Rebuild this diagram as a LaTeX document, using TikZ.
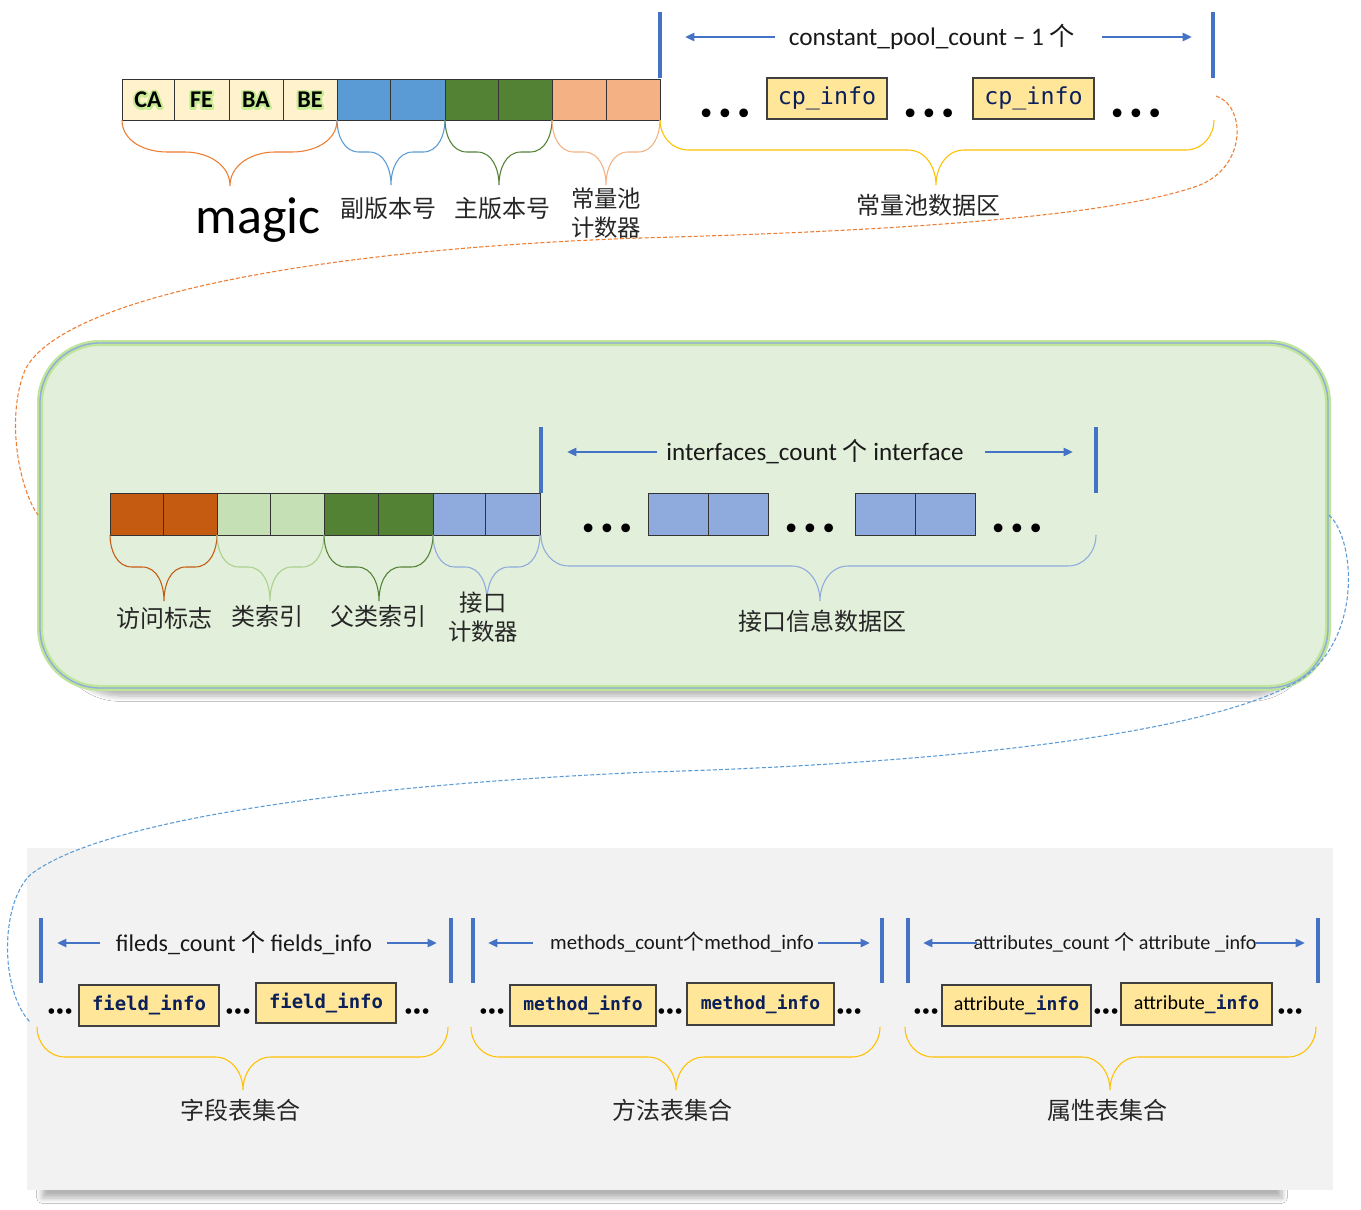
\documentclass[tikz,border=0pt]{standalone}
\usepackage{fontspec}
\setmainfont{Carlito}
\newfontfamily\cjk{Noto Sans CJK SC}
\newfontfamily\mono{DejaVu Sans Mono}
\newfontfamily\dvs{DejaVu Sans}
\usetikzlibrary{arrows.meta,shadows.blur}
\definecolor{cream}{HTML}{FFF2CC}
\definecolor{sky}{HTML}{5B9BD5}
\definecolor{dgreen}{HTML}{548235}
\definecolor{peach}{HTML}{F4B183}
\definecolor{rust}{HTML}{C55A11}
\definecolor{lgreen}{HTML}{C5E0B4}
\definecolor{periw}{HTML}{8FAADC}
\definecolor{royal}{HTML}{4472C4}
\definecolor{gold}{HTML}{FFE699}
\definecolor{amber}{HTML}{FFC000}
\definecolor{navy}{HTML}{0B1F5A}
\definecolor{orng}{HTML}{ED7D31}
\definecolor{panelg}{HTML}{E2EFDA}
\definecolor{panelgray}{HTML}{F2F2F2}
\definecolor{glowg}{HTML}{A9D18E}
\definecolor{limeglow}{HTML}{BFE59A}
\definecolor{ink}{HTML}{262626}

\newcommand\cellbox[7]{\node[cell,fill=#6,minimum width={(#3-#2)*0.75pt},minimum height={(#5-#4)*0.75pt}] (#1) at ({(#2+#3)/2},{(#4+#5)/2}) {#7};}
\newcommand\infobox[6]{\node[infob,fill=gold,minimum width={(#3-#2)*0.75pt},minimum height={(#5-#4)*0.75pt}] (#1) at ({(#2+#3)/2},{(#4+#5)/2}) {#6};}
% x1 x2 xm ytop ymid ytip R color
\newcommand\brc[8]{\draw[#8,line width=0.8pt] (#1,#4) to[out=-90,in=180] ({#1+#7},#5) -- ({#3-#7},#5) to[out=0,in=90] (#3,#6) to[out=90,in=180] ({#3+#7},#5) -- ({#2-#7},#5) to[out=0,in=-90] (#2,#4);}
\newcommand\dts{{\dvs\bfseries\fontsize{18.5}{18.5}\selectfont •\kern2.2pt•\kern2.2pt•}}
\newcommand\sdts{{\dvs\bfseries\fontsize{12}{12}\selectfont •\kern-1.2pt•\kern-1.2pt•}}
% stroked halo text (PDF text render mode 1)
\newcommand\halotext[1]{\special{pdf:code q 1 Tr 3.2 w 1 j 0.78 0.92 0.58 RG}#1\special{pdf:code 0 Tr Q}}

\tikzset{
  cell/.style={draw=black!80,line width=0.75pt,inner sep=0pt,outer sep=0pt},
  infob/.style={draw=black!75,line width=0.9pt,inner sep=0pt,outer sep=0pt,text=navy},
  bytefont/.style={font=\bfseries\fontsize{18}{18}\selectfont},
  lbl/.style={text=ink,inner sep=0pt,font=\cjk\fontsize{18}{20}\selectfont},
  head/.style={text=black!90,inner sep=0pt,font=\fontsize{18.8}{18.8}\selectfont},
  bar/.style={royal,line width=2.3pt},
  arr/.style={royal,line width=2pt,-{Triangle[length=7pt,width=6pt]}},
  linkline/.style={line width=0.8pt,dash pattern=on 3pt off 1.6pt},
  softshadow/.style={blur shadow={shadow xshift=0pt,shadow yshift=-6pt,shadow blur radius=4pt,shadow blur steps=8,shadow opacity=30}},
}

\begin{document}
\begin{tikzpicture}[x=0.75pt,y=-0.75pt]
\useasboundingbox (0,0) rectangle (1361,1210);
\fill[white] (0,0) rectangle (1361,1210);

% ---------- panels ----------
\path[softshadow] (42,860) rectangle (1282,1190);
\node[fill=panelgray,minimum width=979.5pt,minimum height=256.5pt,inner sep=0pt,outer sep=0pt] (gp) at (680,1019) {};
\path[softshadow,rounded corners=45pt] (60,360) rectangle (1310,688);
\node[draw=limeglow,line width=4.5pt,fill=panelg,rounded corners=45pt,minimum width=966pt,minimum height=258.75pt,inner sep=0pt,outer sep=0pt] (pg) at (684,515.5) {};
\draw[periw,line width=1pt,rounded corners=45pt] (40,343) rectangle (1328,688);

% ---------- top row ----------
\cellbox{ca}{122}{174}{79}{120}{cream}{}
\cellbox{fe}{174}{229}{79}{120}{cream}{}
\cellbox{ba}{229}{283}{79}{120}{cream}{}
\cellbox{be}{283}{337}{79}{120}{cream}{}
\cellbox{mi1}{337}{390}{79}{120}{sky}{}
\cellbox{mi2}{390}{445}{79}{120}{sky}{}
\cellbox{ma1}{445}{498}{79}{120}{dgreen}{}
\cellbox{ma2}{498}{552}{79}{120}{dgreen}{}
\cellbox{cc1}{552}{606}{79}{120}{peach}{}
\cellbox{cc2}{606}{660}{79}{120}{peach}{}
\node[bytefont] (caH) at (148,100) {\halotext{CA}};
\node[bytefont] (feH) at (201.5,100) {\halotext{FE}};
\node[bytefont] (baH) at (256,100) {\halotext{BA}};
\node[bytefont] (beH) at (310,100) {\halotext{BE}};
\node[bytefont] (caT) at (148,100) {CA};
\node[bytefont] (feT) at (201.5,100) {FE};
\node[bytefont] (baT) at (256,100) {BA};
\node[bytefont] (beT) at (310,100) {BE};

\draw[bar] (660,12) -- (660,78);
\draw[bar] (1213,12) -- (1213,78);
\node[head,font=\fontsize{19}{19}\selectfont] (cpc) at (932,37) {constant\_pool\_count – 1 {\cjk 个}};
\coordinate (a1s) at (775,37); \coordinate (a1e) at (685,37);
\coordinate (a2s) at (1102,37); \coordinate (a2e) at (1192,37);
\draw[arr] (a1s) -- (a1e);
\draw[arr] (a2s) -- (a2e);
\node (d1) at (725,116) {\dts};
\infobox{cp1}{767}{887}{78}{119}{\mono\fontsize{17.5}{17.5}\selectfont cp\_info}
\node (d2) at (929,116) {\dts};
\infobox{cp2}{973}{1094}{78}{119}{\mono\fontsize{17.5}{17.5}\selectfont cp\_info}
\node (d3) at (1136,116) {\dts};

\brc{122}{337}{230}{120}{152}{186}{45}{orng}
\brc{337}{445}{391}{120}{152}{185}{22}{sky}
\brc{445}{552}{499}{120}{152}{185}{22}{dgreen}
\brc{552}{660}{606}{120}{152}{185}{22}{peach}
\brc{660}{1214}{936}{120}{150}{185}{28}{amber}

\node[text=black,inner sep=0pt,font=\fontsize{39}{39}\selectfont] (magic) at (258,220) {magic};
\node[lbl] (minor) at (388,208) {副版本号};
\node[lbl] (major) at (502,208) {主版本号};
\node[lbl,align=center,font=\cjk\fontsize{17.5}{22}\selectfont] (cpcnt) at (606,213) {常量池\\计数器};
\node[lbl] (cpdata) at (928,205) {常量池数据区};

% ---------- middle row ----------
\cellbox{af1}{110}{163}{493}{535}{rust}{}
\cellbox{af2}{163}{217}{493}{535}{rust}{}
\cellbox{ci1}{217}{270}{493}{535}{lgreen}{}
\cellbox{ci2}{270}{324}{493}{535}{lgreen}{}
\cellbox{si1}{324}{378}{493}{535}{dgreen}{}
\cellbox{si2}{378}{433}{493}{535}{dgreen}{}
\cellbox{ic1}{433}{485}{493}{535}{periw}{}
\cellbox{ic2}{485}{540}{493}{535}{periw}{}

\draw[bar] (541,427) -- (541,493);
\draw[bar] (1096,427) -- (1096,493);
\node[head] (ifc) at (815,452) {interfaces\_count {\cjk 个} interface};
\coordinate (b1s) at (657,452); \coordinate (b1e) at (567,452);
\coordinate (b2s) at (985,452); \coordinate (b2e) at (1073,452);
\draw[arr] (b1s) -- (b1e);
\draw[arr] (b2s) -- (b2e);
\node (e1) at (607,531) {\dts};
\cellbox{if1}{648}{708}{493}{535}{periw}{}
\cellbox{if2}{708}{768}{493}{535}{periw}{}
\node (e2) at (810,531) {\dts};
\cellbox{if3}{855}{915}{493}{535}{periw}{}
\cellbox{if4}{915}{975}{493}{535}{periw}{}
\node (e3) at (1017,531) {\dts};

\brc{110}{217}{164}{535}{567}{601}{22}{rust}
\brc{217}{324}{270}{535}{567}{601}{22}{glowg}
\brc{324}{433}{379}{535}{567}{601}{22}{dgreen}
\brc{433}{540}{487}{535}{567}{601}{22}{periw}
\brc{541}{1096}{820}{535}{566}{601}{28}{periw}

\node[lbl] (acc) at (164,618) {访问标志};
\node[lbl] (cls) at (267,616) {类索引};
\node[lbl] (sup) at (378,616) {父类索引};
\node[lbl,align=center,font=\cjk\fontsize{17.5}{22}\selectfont] (icnt) at (483,617) {接口\\计数器};
\node[lbl] (idata) at (822,621) {接口信息数据区};

% ---------- bottom row ----------
\draw[bar] (41,918) -- (41,983);
\draw[bar] (451,918) -- (451,983);
\draw[bar] (473,918) -- (473,983);
\draw[bar] (882,918) -- (882,983);
\draw[bar] (908,918) -- (908,983);
\draw[bar] (1318,918) -- (1318,983);

\node[head,font=\fontsize{18}{18}\selectfont] (fh) at (244,943) {fileds\_count {\cjk 个} fields\_info};
\node[head,font=\fontsize{15.6}{15.6}\selectfont] (mh) at (682,942) {methods\_count{\cjk 个}method\_info};
\node[head,font=\fontsize{15.1}{15.1}\selectfont] (ah) at (1115,942) {attributes\_count {\cjk 个} attribute \_info};
\coordinate (c1s) at (100,943); \coordinate (c1e) at (57,943);
\coordinate (c2s) at (387,943); \coordinate (c2e) at (437,943);
\coordinate (c3s) at (533,943); \coordinate (c3e) at (488,943);
\coordinate (c4s) at (818,943); \coordinate (c4e) at (870,943);
\coordinate (c5s) at (977,943); \coordinate (c5e) at (923,943);
\coordinate (c6s) at (1255,943); \coordinate (c6e) at (1305,943);
\foreach \s/\e in {c1s/c1e,c2s/c2e,c3s/c3e,c4s/c4e,c5s/c5e,c6s/c6e}{\draw[arr] (\s) -- (\e);}

\node (f1) at (60,1013) {\sdts};
\infobox{fi1}{79}{219}{985}{1026}{\mono\bfseries\fontsize{14.2}{14.2}\selectfont field\_info}
\node (f2) at (238,1013) {\sdts};
\infobox{fi2}{256}{396}{983}{1023}{\mono\bfseries\fontsize{14.2}{14.2}\selectfont field\_info}
\node (f3) at (417,1013) {\sdts};

\node (m1) at (492,1013) {\sdts};
\infobox{mi1b}{510}{656}{985}{1026}{\mono\bfseries\fontsize{13.5}{13.5}\selectfont method\_info}
\node (m2) at (670,1013) {\sdts};
\infobox{mi2b}{687}{834}{983}{1025}{\mono\bfseries\fontsize{13.5}{13.5}\selectfont method\_info}
\node (m3) at (849,1013) {\sdts};

\node (t1) at (926,1013) {\sdts};
\infobox{at1}{942}{1091}{985}{1026}{{\color{black}\fontsize{15}{15}\selectfont attribute}{\mono\bfseries\fontsize{13.5}{13.5}\selectfont \_info}}
\node (t2) at (1106,1013) {\sdts};
\infobox{at2}{1121}{1272}{983}{1025}{{\color{black}\fontsize{15}{15}\selectfont attribute}{\mono\bfseries\fontsize{13.5}{13.5}\selectfont \_info}}
\node (t3) at (1290,1013) {\sdts};

\brc{37}{448}{243}{1027}{1057}{1090}{28}{amber}
\brc{471}{880}{676}{1027}{1057}{1090}{28}{amber}
\brc{905}{1316}{1110}{1027}{1057}{1090}{28}{amber}

\node[lbl] (fset) at (240,1110) {字段表集合};
\node[lbl] (mset) at (672,1110) {方法表集合};
\node[lbl] (aset) at (1107,1110) {属性表集合};

% ---------- links ----------
\coordinate (o1) at (1216,96);
\coordinate (o2) at (38,515);
\draw[linkline,orng] (o1) .. controls (1245,105) and (1248,165) .. (1200,185)
  .. controls (1100,222) and (820,233) .. (640,238)
  .. controls (300,250) and (60,300) .. (25,370)
  .. controls (5,420) and (20,490) .. (o2);
\coordinate (u1) at (1329,515);
\coordinate (u2) at (30,1022);
\draw[linkline,sky] (u1) .. controls (1356,540) and (1362,640) .. (1300,680)
  .. controls (1200,740) and (900,765) .. (650,772)
  .. controls (350,785) and (100,820) .. (30,875)
  .. controls (0,905) and (0,990) .. (u2);
\end{tikzpicture}
\end{document}
